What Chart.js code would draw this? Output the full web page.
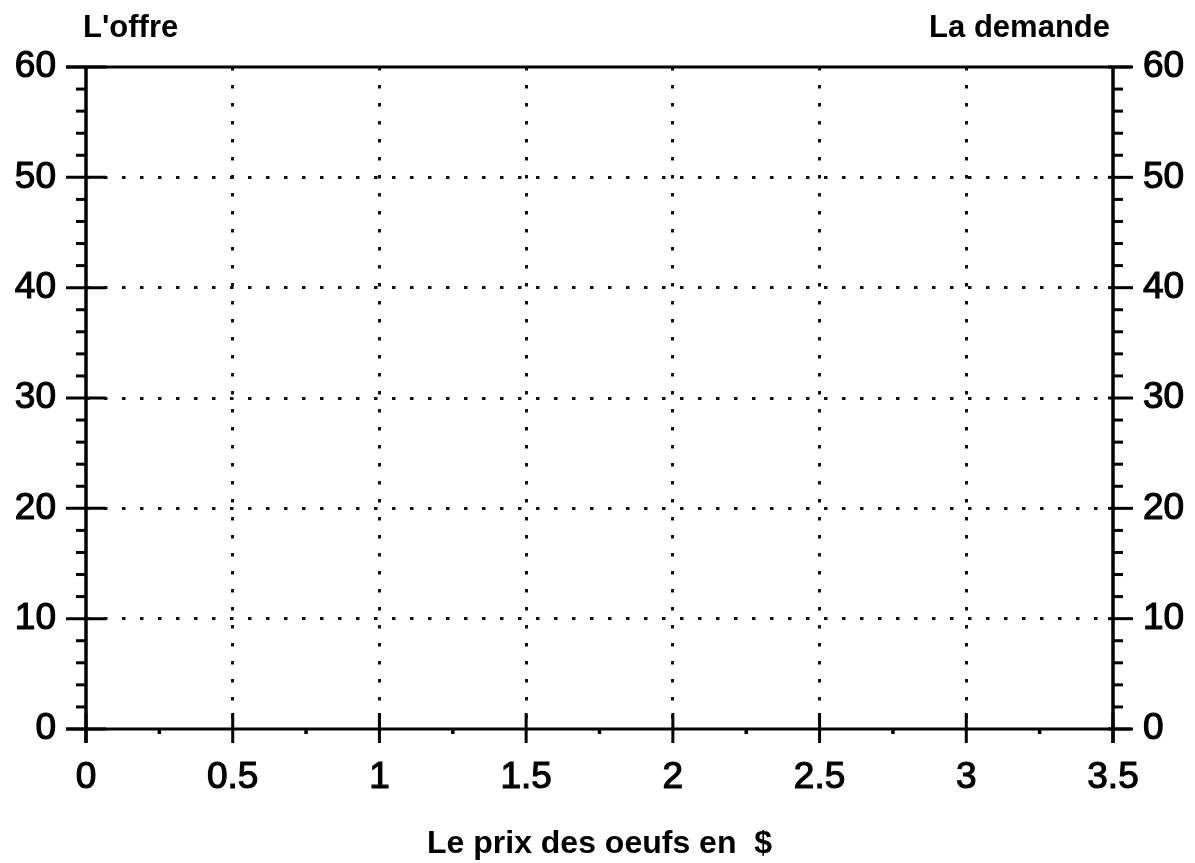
<!DOCTYPE html>
<html lang="fr">
<head>
    <meta charset="UTF-8">
    <title>L'offre et la demande</title>
    <script src="https://cdn.jsdelivr.net/npm/chart.js"></script>
    <style>
        body {
            margin: 0;
            background: #fff;
        }
        #chart {
            display: block;
        }
    </style>
</head>
<body>
    <canvas id="chart" width="1195" height="863"></canvas>

    <script>
        // Axis values read from the sheet
        const xTicks = [0, 0.5, 1, 1.5, 2, 2.5, 3, 3.5];
        const xMinorTicks = [0.25, 0.75, 1.25, 1.75, 2.25, 2.75, 3.25];
        const yTicks = [0, 10, 20, 30, 40, 50, 60];
        const yMinorTicks = [2, 4, 6, 8, 12, 14, 16, 18, 22, 24, 26, 28, 32, 34, 36, 38,
                             42, 44, 46, 48, 52, 54, 56, 58];
        const leftLabel = "L'offre";
        const rightLabel = 'La demande';
        const xTitle = 'Le prix des oeufs en  $';

        // Empty sheet: no series plotted yet
        const offreData = [];
        const demandeData = [];

        const FONT = "'Liberation Sans', Arial, Helvetica, sans-serif";
        const xMin = xTicks[0], xMax = xTicks[xTicks.length - 1];
        const yMin = yTicks[0], yMax = yTicks[yTicks.length - 1];
        const DOTS = [3.5, 14.5];

        // dotted grid only inside the frame
        const innerColor = (lo, hi) => ctx =>
            (ctx.tick && ctx.tick.value > lo && ctx.tick.value < hi) ? '#111' : 'rgba(0,0,0,0)';

        // axes, frame and tick marks
        const framePlugin = {
            id: 'frame',
            afterDraw(chart) {
                const { ctx, scales } = chart;
                const x = scales.x, y = scales.y;
                const x0 = x.getPixelForValue(xMin), x1 = x.getPixelForValue(xMax);
                const y0 = y.getPixelForValue(yMin), y1 = y.getPixelForValue(yMax);
                ctx.save();
                ctx.strokeStyle = '#000';
                ctx.lineCap = 'butt';

                const line = (ax, ay, bx, by, w) => {
                    ctx.lineWidth = w;
                    ctx.beginPath();
                    ctx.moveTo(ax, ay);
                    ctx.lineTo(bx, by);
                    ctx.stroke();
                };

                // verticals
                line(x0, y1, x0, y0 + 14, 3.5);
                line(x1, y1, x1, y0 + 14, 3.5);
                // top and bottom
                line(x0 - 20, y1, x1 + 18, y1, 3);
                line(x0 - 20, y0, x1 + 18, y0, 3);

                yTicks.forEach(v => {
                    const p = y.getPixelForValue(v);
                    line(x0 - 20, p, x0 + 20, p, 3);
                    line(x1 - 5, p, x1 + 20, p, 3);
                });
                yMinorTicks.forEach(v => {
                    const p = y.getPixelForValue(v);
                    line(x0 - 10, p, x0, p, 3);
                    line(x1, p, x1 + 10, p, 3);
                });
                xTicks.forEach(v => {
                    const p = x.getPixelForValue(v);
                    line(p, y0 - 16, p, y0 + 14, 3);
                });
                xMinorTicks.forEach(v => {
                    const p = x.getPixelForValue(v);
                    line(p, y0, p, y0 + 5, 3.5);
                });

                // headings above the frame
                ctx.fillStyle = '#000';
                ctx.font = 'bold 31px ' + FONT;
                ctx.textBaseline = 'alphabetic';
                ctx.textAlign = 'left';
                ctx.fillText(leftLabel, x0 - 3, 37);
                ctx.textAlign = 'right';
                ctx.fillText(rightLabel, x1 - 3, 37);
                ctx.restore();
            }
        };

        const tickFont = { family: FONT, size: 37 };
        const tickOpts = {
            padding: 30,
            color: '#000',
            font: tickFont,
            textStrokeColor: '#000',
            textStrokeWidth: 1.2,
            callback: v => String(v)
        };

        new Chart(document.getElementById('chart'), {
            type: 'scatter',
            data: {
                datasets: [
                    { label: "L'offre", data: offreData, yAxisID: 'y', borderColor: '#000' },
                    { label: 'La demande', data: demandeData, yAxisID: 'y2', borderColor: '#000' }
                ]
            },
            options: {
                responsive: false,
                animation: false,
                layout: { padding: { top: 67, left: 0, right: 0, bottom: 0 } },
                plugins: {
                    legend: { display: false },
                    tooltip: { enabled: false }
                },
                scales: {
                    x: {
                        type: 'linear',
                        min: xMin,
                        max: xMax,
                        afterBuildTicks: s => { s.ticks = xTicks.map(v => ({ value: v })); },
                        afterFit: s => { s.height = 134; },
                        ticks: Object.assign({}, tickOpts, { autoSkip: false, maxRotation: 0, padding: 27 }),
                        grid: {
                            drawTicks: false,
                            color: innerColor(xMin, xMax),
                            lineWidth: 3,
                            borderDash: DOTS
                        },
                        border: { display: false, dash: DOTS },
                        title: {
                            display: true,
                            text: xTitle,
                            color: '#000',
                            font: { family: FONT, size: 32, weight: 'bold' },
                            padding: { top: 0, bottom: 0 }
                        }
                    },
                    y: {
                        type: 'linear',
                        position: 'left',
                        min: yMin,
                        max: yMax,
                        afterBuildTicks: s => { s.ticks = yTicks.map(v => ({ value: v })); },
                        afterFit: s => { s.width = 86; },
                        ticks: tickOpts,
                        grid: {
                            drawTicks: false,
                            color: innerColor(yMin, yMax),
                            lineWidth: 3,
                            borderDash: DOTS
                        },
                        border: { display: false, dash: DOTS }
                    },
                    y2: {
                        type: 'linear',
                        position: 'right',
                        min: yMin,
                        max: yMax,
                        afterBuildTicks: s => { s.ticks = yTicks.map(v => ({ value: v })); },
                        afterFit: s => { s.width = 82; },
                        ticks: tickOpts,
                        grid: { drawTicks: false, drawOnChartArea: false },
                        border: { display: false }
                    }
                }
            },
            plugins: [framePlugin]
        });
    </script>
</body>
</html>
